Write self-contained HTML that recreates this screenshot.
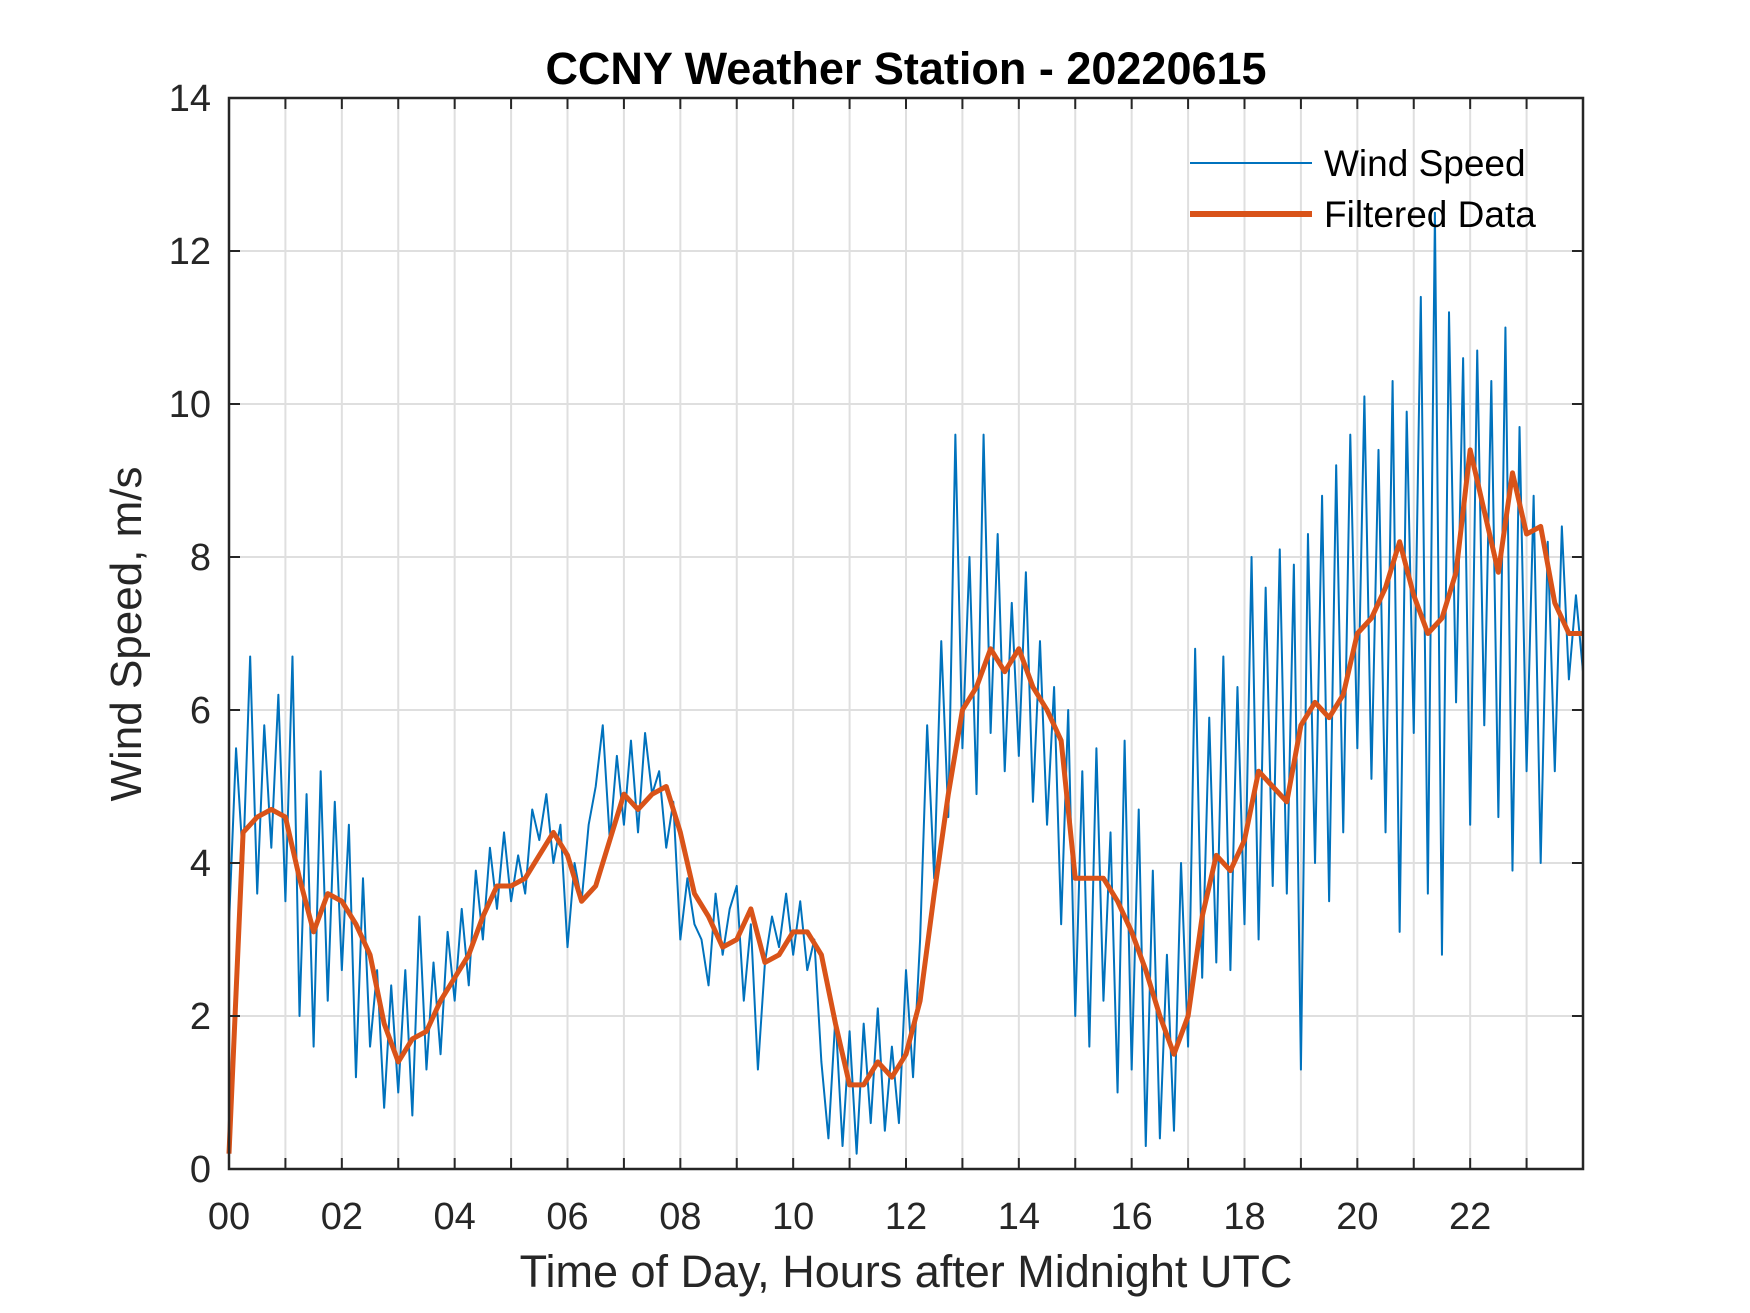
<!DOCTYPE html>
<html><head><meta charset="utf-8"><style>
html,body{margin:0;padding:0;background:#fff;}
svg{display:block;font-family:"Liberation Sans",Arial,sans-serif;}
</style></head><body>
<svg id="chart" width="1750" height="1313" viewBox="0 0 1750 1313" xmlns="http://www.w3.org/2000/svg">
<rect width="1750" height="1313" fill="#fff"/>
<g id="grid"></g>
<g id="series"></g>
<g id="axes"></g>
<text x="906" y="84" text-anchor="middle" font-size="45" font-weight="bold" fill="#000">CCNY Weather Station - 20220615</text>
<text x="906" y="1287" text-anchor="middle" font-size="45" fill="#262626">Time of Day, Hours after Midnight UTC</text>
<text transform="translate(141,634) rotate(-90)" text-anchor="middle" font-size="44" fill="#262626">Wind Speed, m/s</text>
<g>
<line x1="1190" y1="163" x2="1312" y2="163" stroke="#0072BD" stroke-width="2"/>
<text x="1324" y="176" font-size="37" fill="#000">Wind Speed</text>
<line x1="1190" y1="214" x2="1312" y2="214" stroke="#D95319" stroke-width="6"/>
<text x="1324" y="227" font-size="37" fill="#000">Filtered Data</text>
</g>
</svg>
<script>
const xTicks=[0,2,4,6,8,10,12,14,16,18,20,22];
const xTickLabels=["00","02","04","06","08","10","12","14","16","18","20","22"];
const yTicks=[0,2,4,6,8,10,12,14];
const windStep=0.125;
const windSpeed=[
3.2,5.5,4.0,6.7,3.6,5.8,4.2,6.2,
3.5,6.7,2.0,4.9,1.6,5.2,2.2,4.8,
2.6,4.5,1.2,3.8,1.6,2.6,0.8,2.4,
1.0,2.6,0.7,3.3,1.3,2.7,1.5,3.1,
2.2,3.4,2.4,3.9,3.0,4.2,3.4,4.4,
3.5,4.1,3.6,4.7,4.3,4.9,4.0,4.5,
2.9,4.0,3.5,4.5,5.0,5.8,4.3,5.4,
4.5,5.6,4.4,5.7,4.9,5.2,4.2,4.8,
3.0,3.8,3.2,3.0,2.4,3.6,2.8,3.4,
3.7,2.2,3.2,1.3,2.7,3.3,2.9,3.6,
2.8,3.5,2.6,3.0,1.4,0.4,2.0,0.3,
1.8,0.2,1.9,0.6,2.1,0.5,1.6,0.6,
2.6,1.2,3.0,5.8,3.8,6.9,4.6,9.6,
5.5,8.0,4.9,9.6,5.7,8.3,5.2,7.4,
5.4,7.8,4.8,6.9,4.5,6.3,3.2,6.0,
2.0,5.2,1.6,5.5,2.2,4.4,1.0,5.6,
1.3,4.7,0.3,3.9,0.4,2.8,0.5,4.0,
1.6,6.8,2.5,5.9,2.7,6.7,2.6,6.3,
3.2,8.0,3.0,7.6,3.7,8.1,3.6,7.9,
1.3,8.3,4.0,8.8,3.5,9.2,4.4,9.6,
5.5,10.1,5.1,9.4,4.4,10.3,3.1,9.9,
5.7,11.4,3.6,12.5,2.8,11.2,6.1,10.6,
4.5,10.7,5.8,10.3,4.6,11.0,3.9,9.7,
5.2,8.8,4.0,8.2,5.2,8.4,6.4,7.5,
6.5];
const filtStep=0.25;
const filtered=[
0.2,4.4,4.6,4.7,4.6,3.8,3.1,3.6,3.5,3.2,2.8,1.9,1.4,1.7,1.8,2.2,
2.5,2.8,3.3,3.7,3.7,3.8,4.1,4.4,4.1,3.5,3.7,4.3,4.9,4.7,4.9,5.0,
4.4,3.6,3.3,2.9,3.0,3.4,2.7,2.8,3.1,3.1,2.8,1.9,1.1,1.1,1.4,1.2,
1.5,2.2,3.6,4.9,6.0,6.3,6.8,6.5,6.8,6.3,6.0,5.6,3.8,3.8,3.8,3.5,
3.1,2.6,2.0,1.5,2.0,3.3,4.1,3.9,4.3,5.2,5.0,4.8,5.8,6.1,5.9,6.2,
7.0,7.2,7.6,8.2,7.5,7.0,7.2,7.8,9.4,8.6,7.8,9.1,8.3,8.4,7.4,7.0,7.0];

const L=229,R=1583,T=98,B=1169,XMAX=24,YMAX=14;
const sx=v=>L+(R-L)*v/XMAX, sy=v=>B-(B-T)*v/YMAX;
const NS='http://www.w3.org/2000/svg';
function mk(tag,attrs,parent){const e=document.createElementNS(NS,tag);for(const k in attrs)e.setAttribute(k,attrs[k]);parent.appendChild(e);return e;}
const grid=document.getElementById('grid'),axes=document.getElementById('axes'),series=document.getElementById('series');
for(let h=1;h<XMAX;h++){const g=mk('line',{x1:sx(h),x2:sx(h),y1:T,y2:B,stroke:'#dfdfdf','stroke-width':2},grid);


for(const [a,b] of [[B,B-11],[T,T+11]]){const t=mk('line',{x1:sx(h),x2:sx(h),y1:a,y2:b,stroke:'#262626','stroke-width':2},axes);

}}
yTicks.forEach(v=>{if(v>0&&v<YMAX){const g=mk('line',{x1:L,x2:R,y1:sy(v),y2:sy(v),stroke:'#dfdfdf','stroke-width':2},grid);


for(const [a,b] of [[L,L+11],[R,R-11]]){const t=mk('line',{x1:a,x2:b,y1:sy(v),y2:sy(v),stroke:'#262626','stroke-width':2},axes);

}}
const lb=mk('text',{x:L-18,y:sy(v)+13,'text-anchor':'end','font-size':38,fill:'#262626'},axes);lb.textContent=v;

});
xTicks.forEach((v,i)=>{const lb=mk('text',{x:sx(v),y:1229,'text-anchor':'middle','font-size':38,fill:'#262626'},axes);lb.textContent=xTickLabels[i];

});
const wp=windSpeed.map((v,i)=>sx(Math.min(i*windStep,XMAX))+','+sy(v)).join(' ');
const w=mk('polyline',{points:wp,fill:'none',stroke:'#0072BD','stroke-width':2,'stroke-linejoin':'round'},series);


const fp=filtered.map((v,i)=>sx(Math.min(i*filtStep,XMAX))+','+sy(v)).join(' ');
const f=mk('polyline',{points:fp,fill:'none',stroke:'#D95319','stroke-width':5,'stroke-linejoin':'round'},series);


const box=mk('rect',{x:L,y:T,width:R-L,height:B-T,fill:'none',stroke:'#262626','stroke-width':2.5},axes);


</script>
</body></html>
